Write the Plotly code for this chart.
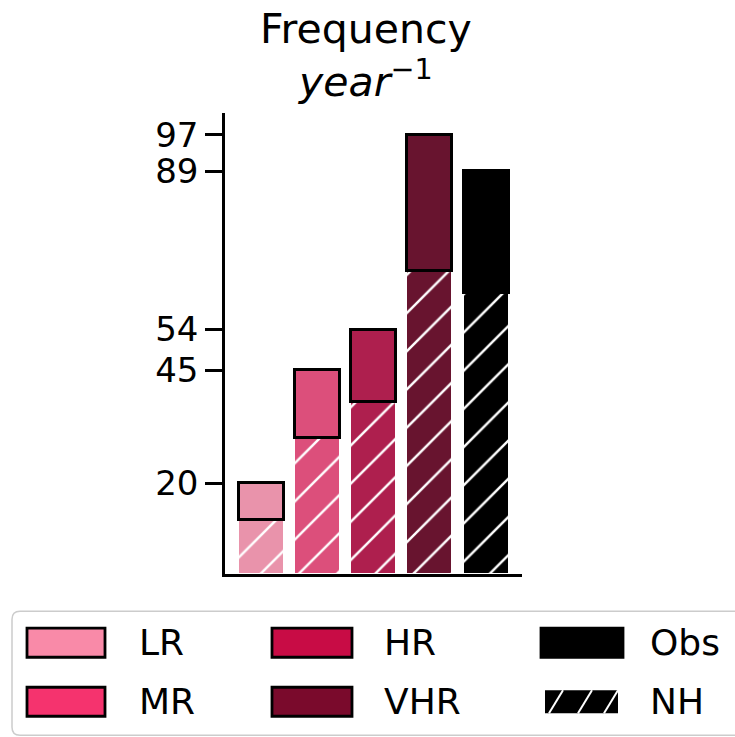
import plotly.graph_objects as go

# ---- data ----
categories = ["LR", "MR", "HR", "VHR", "Obs"]
total_freq = [20, 45, 54, 97, 89]
nh_freq = [12, 30, 38, 67, 62]
bar_colors = ["#e993ab", "#dc4f7b", "#ae1f4e", "#68142f", "#000000"]
tick_vals = [20, 45, 54, 89, 97]
legend_labels = ["LR", "MR", "HR", "VHR", "Obs", "NH"]
legend_colors = ["#f98aa8", "#f5336e", "#c80c45", "#7a0a2c", "#000000", "#000000"]

W, H = 735, 737
L, R, T, B = 225, 522, 113, 573.8   # plot area in pixels

def px(x):
    return (x - L) / (R - L)

def py(y):
    return (B - y) / (B - T)

xpos = list(range(len(categories)))
top_part = [t - n for t, n in zip(total_freq, nh_freq)]
FONT = "DejaVu Sans"

fig = go.Figure()
for i, cat in enumerate(categories):
    fig.add_trace(go.Bar(
        x=[xpos[i]], y=[nh_freq[i]], width=0.8, name=cat + " NH", showlegend=False,
        marker=dict(color=bar_colors[i], line=dict(color="white", width=1.5),
                    pattern=dict(shape="/", fgcolor="white", fgopacity=1,
                                 size=27, solidity=0.09)),
    ))
for i, cat in enumerate(categories):
    fig.add_trace(go.Bar(
        x=[xpos[i]], y=[top_part[i]], width=0.8, name=cat, showlegend=False,
        marker=dict(color=bar_colors[i], line=dict(color="black", width=2.8)),
    ))

fig.update_layout(
    width=W, height=H, barmode="stack", bargap=0,
    margin=dict(l=L, r=W - R, t=T, b=H - B, pad=0),
    plot_bgcolor="white", paper_bgcolor="white",
    font=dict(family=FONT, color="black"),
    showlegend=False,
)
fig.update_xaxes(range=[-0.64, 4.64], showline=True, linewidth=2.5, linecolor="black",
                 showticklabels=False, ticks="", showgrid=False, zeroline=False)
fig.update_yaxes(range=[0, 101.85], tickvals=tick_vals, ticktext=[str(v) for v in tick_vals],
                 ticks="outside", ticklen=17, tickwidth=2.5, tickcolor="black",
                 showline=True, linewidth=2.5, linecolor="black", showgrid=False,
                 zeroline=False, tickfont=dict(size=34, family=FONT, color="black"))

# title
fig.add_annotation(x=px(366), y=py(3), xref="paper", yref="paper", xanchor="center",
                   yanchor="top", showarrow=False, align="center",
                   text="Frequency<br><i>year</i><sup>−1</sup>",
                   font=dict(size=41, family=FONT, color="black"))

# legend frame (rounded)
x0, y0, x1, y1, r = px(12), py(611), px(770), py(735), 8
rx, ry = r / (R - L), r / (B - T)
path = (f"M {x0+rx},{y0} L {x1-rx},{y0} Q {x1},{y0} {x1},{y0-ry} "
        f"L {x1},{y1+ry} Q {x1},{y1} {x1-rx},{y1} L {x0+rx},{y1} Q {x0},{y1} {x0},{y1+ry} "
        f"L {x0},{y0-ry} Q {x0},{y0} {x0+rx},{y0} Z")
fig.add_shape(type="path", path=path, xref="paper", yref="paper",
              line=dict(color="#cccccc", width=1.5), fillcolor="white", layer="below")

cols_x = [(27, 105, 137), (272, 352, 382), (541, 623, 648)]
rows_y = [(628, 657), (687, 716)]
for i, lab in enumerate(legend_labels):
    c, rw = divmod(i, 2)
    sx0, sx1, tx = cols_x[c]
    sy0, sy1 = rows_y[rw]
    if lab != "NH":
        fig.add_shape(type="rect", xref="paper", yref="paper",
                      x0=px(sx0), x1=px(sx1), y0=py(sy1), y1=py(sy0),
                      fillcolor=legend_colors[i], line=dict(color="black", width=2.8))
    else:
        nx0, nx1, ny0, ny1 = sx0 + 4, sx1 - 5, sy0 + 3, sy1 - 3
        fig.add_shape(type="rect", xref="paper", yref="paper",
                      x0=px(nx0), x1=px(nx1), y0=py(ny1), y1=py(ny0),
                      fillcolor="black", line=dict(color="black", width=0))
        h = ny1 - ny0
        dx = 14
        for cst in [nx0 + 4, nx0 + 33, nx0 + 59]:
            ax, ay = cst, ny1
            bx, by = cst + dx, ny0
            if bx > nx1:
                by = ny1 - h * (nx1 - ax) / dx
                bx = nx1
            fig.add_shape(type="line", xref="paper", yref="paper",
                          x0=px(ax), y0=py(ay), x1=px(bx), y1=py(by),
                          line=dict(color="white", width=2))
    fig.add_annotation(x=px(tx), y=py((sy0 + sy1) / 2), xref="paper", yref="paper",
                       xanchor="left", yanchor="middle", showarrow=False, text=lab,
                       font=dict(size=36, family=FONT, color="black"))

fig.write_html("out.html", config={"displayModeBar": False},
               post_script="document.body.style.margin='0';document.body.style.overflow='hidden';")
